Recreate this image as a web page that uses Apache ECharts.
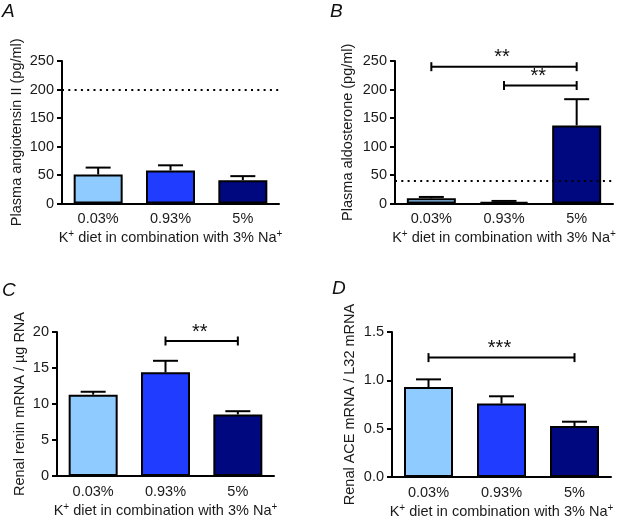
<!DOCTYPE html>
<html>
<head>
<meta charset="utf-8">
<script src="https://cdn.jsdelivr.net/npm/echarts@6/dist/echarts.min.js"></script>
<style>html,body{margin:0;padding:0;background:#fff;}#c{width:620px;height:523px;}</style>
</head>
<body>
<div id="c"></div>
<script>
// ---- data ----
const categories = ['0.03%', '0.93%', '5%'];
const barColors = ['#8FCBFF', '#1F3CFF', '#00087F'];

const angMean = [51, 58, 41];
const angSem = [12, 9, 7];
const angRef = 200;

const aldoMean = [9, 3, 137];
const aldoSem = [2.5, 1.5, 46];
const aldoRef = 40;
const aldoBrackets = [[0, 240, 2], [1, 207, 2]];
const aldoStars = ['**', '**'];

const reninMean = [11.3, 14.4, 8.55];
const reninSem = [0.4, 1.6, 0.45];
const reninBrackets = [[1, 18.75, 2]];
const reninStars = ['**'];

const aceMean = [0.93, 0.76, 0.527];
const aceSem = [0.08, 0.075, 0.045];
const aceBrackets = [[0, 1.235, 2]];
const aceStars = ['***'];

const yMaxA = 250, yStepA = 50;
const yMaxB = 250, yStepB = 50;
const yMaxC = 20, yStepC = 5;
const yMaxD = 1.5, yStepD = 0.5;

const xTitle = 'K{s|+} diet in combination with 3% Na{s|+}';
const yTitles = ['Plasma angiotensin II (pg/ml)', 'Plasma aldosterone (pg/ml)', 'Renal renin mRNA / µg RNA', 'Renal ACE mRNA / L32 mRNA'];
const panelLetters = ['A', 'B', 'C', 'D'];

// ---- styling / helpers ----
const FONT = 'Liberation Sans, Arial, sans-serif';
const TXT = '#1a1a1a';
const FS = 14.5;

const grids = [
  {left: 62, top: 61, width: 217, height: 142.5},
  {left: 395, top: 61, width: 218, height: 142.5},
  {left: 57, top: 332, width: 217, height: 144},
  {left: 392, top: 332, width: 219, height: 145}
];
const yNameGaps = [38, 40, 30, 35];

function xAxisFor(i) {
  return {
    gridIndex: i, type: 'category', data: categories,
    axisLine: {lineStyle: {color: '#000', width: 2}},
    axisTick: {alignWithLabel: true, length: 5, lineStyle: {color: '#000', width: 2}},
    axisLabel: {fontSize: FS, color: TXT, fontFamily: FONT, margin: 8},
    name: xTitle, nameLocation: 'middle', nameGap: 26,
    nameTextStyle: {fontSize: FS, color: TXT, fontFamily: FONT, lineHeight: 17,
      rich: {s: {fontSize: 10, fontFamily: FONT, color: TXT, verticalAlign: 'top', lineHeight: 17}}}
  };
}
function yAxisFor(i, max, step, fmt) {
  return {
    gridIndex: i, type: 'value', min: 0, max: max, interval: step,
    axisLine: {show: true, lineStyle: {color: '#000', width: 2}},
    axisTick: {show: true, length: 5, lineStyle: {color: '#000', width: 2}},
    axisLabel: {fontSize: FS, color: TXT, fontFamily: FONT, margin: 8, formatter: fmt},
    splitLine: {show: false},
    name: yTitles[i], nameLocation: 'middle', nameGap: yNameGaps[i], nameRotate: 90,
    nameTextStyle: {fontSize: FS, color: TXT, fontFamily: FONT}
  };
}

function errItem(params, api) {
  const x = api.value(0), m = api.value(1), e = api.value(2);
  const p0 = api.coord([x, m]);
  const p1 = api.coord([x, m + e]);
  const half = 12.5;
  return {type: 'group', children: [
    {type: 'line', shape: {x1: p0[0], y1: p0[1], x2: p1[0], y2: p1[1]}, style: {stroke: '#000', lineWidth: 2}},
    {type: 'line', shape: {x1: p1[0] - half, y1: p1[1], x2: p1[0] + half, y2: p1[1]}, style: {stroke: '#000', lineWidth: 2}}
  ]};
}
function bracketRenderer(stars) {
  return function (params, api) {
    const a = api.coord([api.value(0), api.value(1)]);
    const b = api.coord([api.value(2), api.value(1)]);
    const h = 4.5;
    return {type: 'group', children: [
      {type: 'line', shape: {x1: a[0], y1: a[1], x2: b[0], y2: b[1]}, style: {stroke: '#000', lineWidth: 2}},
      {type: 'line', shape: {x1: a[0], y1: a[1] - h, x2: a[0], y2: a[1] + h}, style: {stroke: '#000', lineWidth: 2}},
      {type: 'line', shape: {x1: b[0], y1: b[1] - h, x2: b[0], y2: b[1] + h}, style: {stroke: '#000', lineWidth: 2}},
      {type: 'text', style: {text: stars[params.dataIndex], x: (a[0] + b[0]) / 2 - 2, y: a[1] - 9,
        align: 'center', verticalAlign: 'middle', fontSize: 20, fontFamily: FONT, fill: '#111'}}
    ]};
  };
}

function barSeries(i, means, ref) {
  const s = {
    type: 'bar', xAxisIndex: i, yAxisIndex: i, barWidth: 49,
    data: means.map((v, k) => ({value: v, itemStyle: {color: barColors[k]}})),
    itemStyle: {borderColor: '#000', borderWidth: 2},
    z: 2, silent: true
  };
  if (ref !== undefined) {
    s.markLine = {silent: true, symbol: 'none', label: {show: false},
      lineStyle: {color: '#000', type: [2, 4.3], width: 2},
      data: [{yAxis: ref}]};
  }
  return s;
}
function errSeries(i, means, sems) {
  return {type: 'custom', xAxisIndex: i, yAxisIndex: i, renderItem: errItem, z: 1,
    data: means.map((m, k) => [k, m, sems[k]]), encode: {x: 0, y: 1}, silent: true};
}
function bracketSeries(i, brackets, stars) {
  return {type: 'custom', xAxisIndex: i, yAxisIndex: i, renderItem: bracketRenderer(stars), z: 3,
    data: brackets, encode: {x: [0, 2], y: 1}, silent: true, clip: false};
}

const letterPos = [[2, 12], [330, 12], [2, 291], [332, 289]];
const graphics = panelLetters.map((t, k) => ({
  type: 'text', left: letterPos[k][0], top: letterPos[k][1] - 10,
  style: {text: t, fontSize: 19, fontStyle: 'italic', fontFamily: FONT, fill: '#111'}
}));

const chart = echarts.init(document.getElementById('c'), null, {renderer: 'canvas'});
chart.setOption({
  animation: false,
  backgroundColor: '#fff',
  grid: grids,
  xAxis: [0, 1, 2, 3].map(xAxisFor),
  yAxis: [
    yAxisFor(0, yMaxA, yStepA),
    yAxisFor(1, yMaxB, yStepB),
    yAxisFor(2, yMaxC, yStepC),
    yAxisFor(3, yMaxD, yStepD, v => v.toFixed(1))
  ],
  graphic: graphics,
  series: [
    errSeries(0, angMean, angSem), barSeries(0, angMean, angRef),
    errSeries(1, aldoMean, aldoSem), barSeries(1, aldoMean, aldoRef), bracketSeries(1, aldoBrackets, aldoStars),
    errSeries(2, reninMean, reninSem), barSeries(2, reninMean), bracketSeries(2, reninBrackets, reninStars),
    errSeries(3, aceMean, aceSem), barSeries(3, aceMean), bracketSeries(3, aceBrackets, aceStars)
  ]
});
</script>
</body>
</html>
